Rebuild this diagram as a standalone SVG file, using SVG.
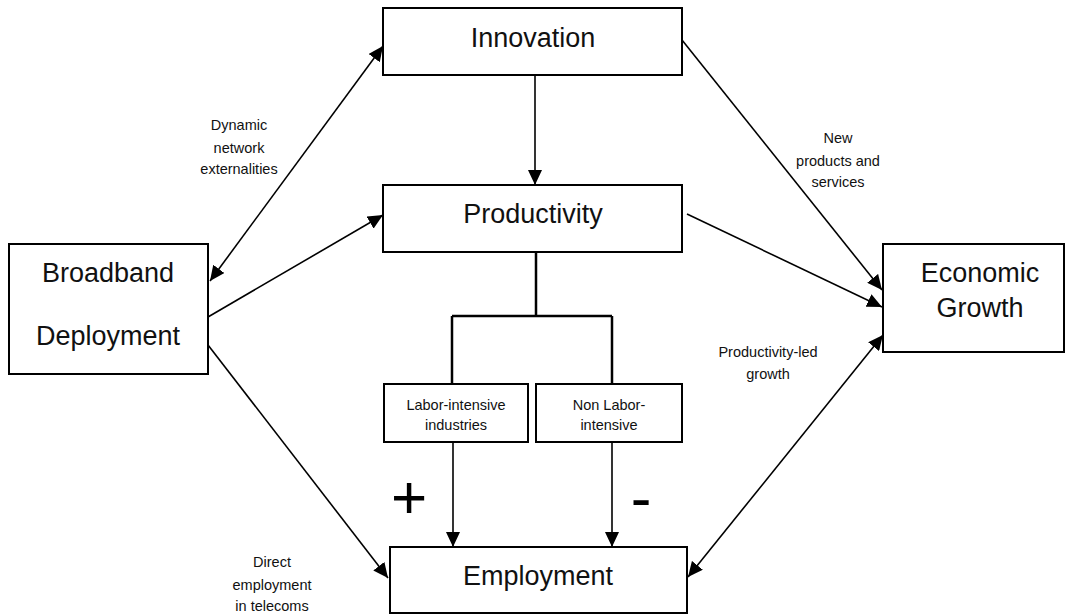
<svg xmlns="http://www.w3.org/2000/svg" width="1066" height="615" viewBox="0 0 1066 615">
<style>
.box{fill:#fff;stroke:#000;stroke-width:2}
.big{font-family:"Liberation Sans",Arial,sans-serif;font-size:27px;fill:#111;text-anchor:middle}
.sm{font-family:"Liberation Sans",Arial,sans-serif;font-size:14.5px;fill:#111;text-anchor:middle}
.sign{font-family:"Liberation Sans",Arial,sans-serif;font-size:62px;fill:#000;text-anchor:middle}
.c{stroke:#000;stroke-width:1.6;fill:none}
.t{stroke:#000;stroke-width:2.5;fill:none}
</style>
<defs>
<marker id="ah" markerUnits="userSpaceOnUse" markerWidth="16" markerHeight="14" refX="15" refY="7" orient="auto-start-reverse">
<path d="M0,0 L15,7 L0,14 z" fill="#000"/>
</marker>
</defs>
<rect width="1066" height="615" fill="#fff"/>
<g id="connectors">
<line class="c" x1="210" y1="281" x2="383" y2="46" marker-start="url(#ah)" marker-end="url(#ah)"/>
<line class="c" x1="208" y1="317" x2="383" y2="215" marker-end="url(#ah)"/>
<line class="c" x1="208" y1="345" x2="388" y2="578" marker-end="url(#ah)"/>
<line class="c" x1="535" y1="75" x2="535" y2="185" marker-end="url(#ah)"/>
<line class="c" x1="682" y1="40" x2="882" y2="290" marker-end="url(#ah)"/>
<line class="c" x1="687" y1="214" x2="882" y2="307" marker-end="url(#ah)"/>
<line class="c" x1="883" y1="335" x2="688" y2="577" marker-start="url(#ah)" marker-end="url(#ah)"/>
<path class="t" d="M536,252 V316 M452,316 H612 M452,316 V384 M612,316 V384"/>
<line class="c" x1="453" y1="442" x2="453" y2="547" marker-end="url(#ah)"/>
<line class="c" x1="612" y1="442" x2="612" y2="547" marker-end="url(#ah)"/>
</g>
<g id="innovation">
<rect class="box" x="383" y="8" width="299" height="67"/>
<text class="big" x="533" y="47">Innovation</text>
</g>
<g id="productivity">
<rect class="box" x="383" y="185" width="299" height="67"/>
<text class="big" x="533" y="223">Productivity</text>
</g>
<g id="broadband">
<rect class="box" x="9" y="244" width="199" height="130"/>
<text class="big" x="108" y="282">Broadband</text>
<text class="big" x="108" y="345">Deployment</text>
</g>
<g id="economic">
<rect class="box" x="883" y="244" width="181" height="108"/>
<text class="big" x="980" y="282">Economic</text>
<text class="big" x="980" y="317">Growth</text>
</g>
<g id="labor">
<rect class="box" x="384" y="384" width="144" height="58"/>
<text class="sm" x="456" y="410">Labor-intensive</text>
<text class="sm" x="456" y="430">industries</text>
</g>
<g id="nonlabor">
<rect class="box" x="536" y="384" width="146" height="58"/>
<text class="sm" x="609" y="410">Non Labor-</text>
<text class="sm" x="609" y="430">intensive</text>
</g>
<g id="employment">
<rect class="box" x="390" y="547" width="297" height="66"/>
<text class="big" x="538" y="585">Employment</text>
</g>
<g id="labels">
<text class="sm" x="239" y="130">Dynamic</text>
<text class="sm" x="239" y="153">network</text>
<text class="sm" x="239" y="174">externalities</text>
<text class="sm" x="838" y="143">New</text>
<text class="sm" x="838" y="166">products and</text>
<text class="sm" x="838" y="187">services</text>
<text class="sm" x="768" y="357">Productivity-led</text>
<text class="sm" x="768" y="379">growth</text>
<text class="sm" x="272" y="567">Direct</text>
<text class="sm" x="272" y="590">employment</text>
<text class="sm" x="272" y="611">in telecoms</text>
<text class="sign" x="409" y="518">+</text>
<text class="sign" x="641" y="519">-</text>
</g>
</svg>
